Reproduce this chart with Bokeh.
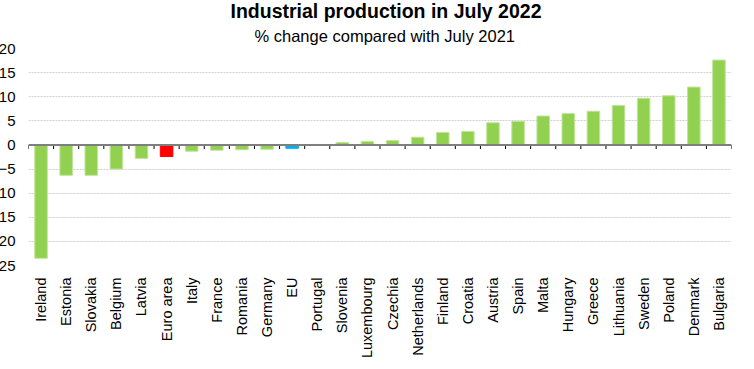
import math
from bokeh.plotting import figure
from bokeh.models import ColumnDataSource, FactorRange, Range1d, FixedTicker, Span, Title
from bokeh.transform import dodge
from bokeh.embed import file_html
from bokeh.resources import INLINE

countries = ["Ireland", "Estonia", "Slovakia", "Belgium", "Latvia", "Euro area", "Italy",
             "France", "Romania", "Germany", "EU", "Portugal", "Slovenia", "Luxembourg",
             "Czechia", "Netherlands", "Finland", "Croatia", "Austria", "Spain", "Malta",
             "Hungary", "Greece", "Lithuania", "Sweden", "Poland", "Denmark", "Bulgaria"]
values = [-23.5, -6.3, -6.3, -5.0, -2.8, -2.4, -1.3, -1.1, -1.0, -0.9, -0.7, 0.1, 0.5, 0.7,
          0.9, 1.6, 2.6, 2.8, 4.6, 4.9, 6.0, 6.5, 7.0, 8.2, 9.7, 10.2, 12.0, 17.6]
y_ticks = [-25, -20, -15, -10, -5, 0, 5, 10, 15, 20]

GREEN = "#92d050"
colors = ["#ff0000" if c == "Euro area" else ("#00b0f0" if c == "EU" else GREEN) for c in countries]
edges = ["#ff0000" if c == "Euro area" else ("#00b0f0" if c == "EU" else "#c2e59c") for c in countries]

src = ColumnDataSource(dict(x=countries, top=values, color=colors, edge=edges))

FONT = "Liberation Sans"

p = figure(x_range=FactorRange(*countries, range_padding=0),
           y_range=Range1d(-25, 20),
           frame_width=703, frame_height=217,
           min_border_left=35, min_border_right=16, min_border_top=0, min_border_bottom=104,
           output_backend="svg", toolbar_location=None, tools="",
           title="Industrial production in July 2022")
p.styles = {"margin-left": "-13px", "margin-top": "-3px"}

p.title.text_font = FONT
p.title.text_font_size = "19.5px"
p.title.text_font_style = "bold"
p.title.text_color = "black"
p.title.align = "left"
p.title.offset = 202
p.title.standoff = 0

sub = Title(text="% change compared with July 2021", text_font=FONT, text_font_size="16.5px",
            text_font_style="normal", text_color="black", align="left", offset=226, standoff=7)
p.add_layout(sub, "above")

p.outline_line_color = None
p.background_fill_color = "white"
p.border_fill_color = "white"

p.xgrid.grid_line_color = None
p.ygrid.ticker = FixedTicker(ticks=y_ticks)
p.ygrid.grid_line_color = "#d0d0d0"
p.ygrid.grid_line_dash = "2 1"
p.ygrid.grid_line_width = 1

p.yaxis.ticker = FixedTicker(ticks=y_ticks)
p.yaxis.axis_line_color = None
p.yaxis.major_tick_line_color = None
p.yaxis.minor_tick_line_color = None
p.yaxis.major_tick_out = 0
p.yaxis.major_tick_in = 0
p.yaxis.major_label_standoff = 13
p.yaxis.major_label_text_font = FONT
p.yaxis.major_label_text_font_size = "15px"
p.yaxis.major_label_text_color = "black"

p.xaxis.axis_line_color = None
p.xaxis.major_tick_line_color = None
p.xaxis.major_tick_out = 0
p.xaxis.major_tick_in = 0
p.xaxis.major_label_orientation = math.pi / 2
p.xaxis.major_label_standoff = 12
p.xaxis.major_label_text_font = FONT
p.xaxis.major_label_text_font_size = "14.5px"
p.xaxis.major_label_text_color = "black"

p.vbar(x="x", top="top", bottom=0, width=0.5, source=src,
       fill_color="color", line_color="edge", line_width=1)

zero = Span(location=0, dimension="width", line_color="#7f7f7f", line_width=2)
p.add_layout(zero)

# tick marks between categories on the zero line
p.segment(x0=dodge("x", -0.5, range=p.x_range), x1=dodge("x", -0.5, range=p.x_range),
          y0=0, y1=-0.85, source=ColumnDataSource(dict(x=countries)),
          line_color="black", line_width=1)
p.segment(x0=dodge("x", 0.5, range=p.x_range), x1=dodge("x", 0.5, range=p.x_range),
          y0=0, y1=-0.85, source=ColumnDataSource(dict(x=countries[-1:])),
          line_color="black", line_width=1)

open("out.html", "w").write(file_html(p, INLINE))
